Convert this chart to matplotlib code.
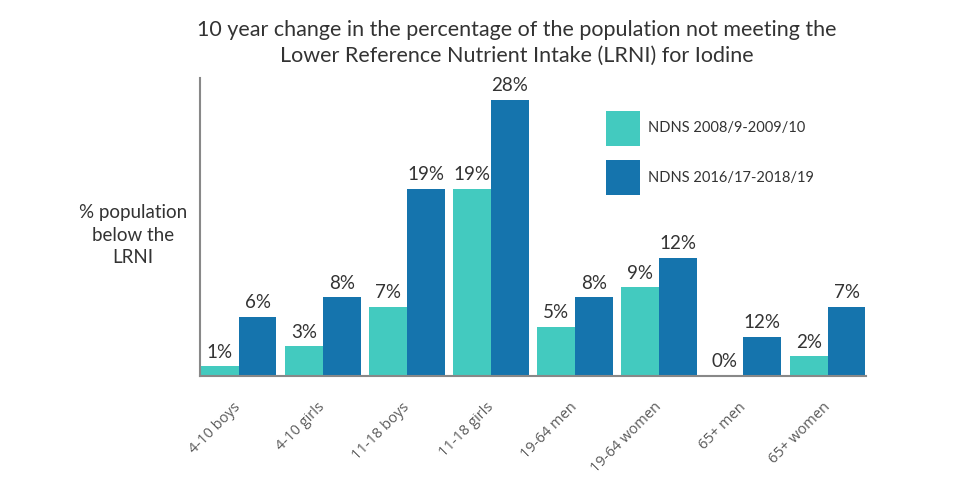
import matplotlib
matplotlib.use("Agg")
import matplotlib.pyplot as plt
import numpy as np

categories = ["4-10 boys", "4-10 girls", "11-18 boys", "11-18 girls",
              "19-64 men", "19-64 women", "65+ men", "65+ women"]
series_names = ["NDNS 2008/9-2009/10", "NDNS 2016/17-2018/19"]
old_values = [1, 3, 7, 19, 5, 9, 0, 2]
new_values = [6, 8, 19, 28, 8, 12, 4, 7]
old_labels = ["1%", "3%", "7%", "19%", "5%", "9%", "0%", "2%"]
new_labels = ["6%", "8%", "19%", "28%", "8%", "12%", "12%", "7%"]

teal = "#43CABF"
blue = "#1574AD"
txt = "#333333"

fig = plt.figure(figsize=(9.8, 4.9), dpi=100)
ax = fig.add_axes([0.204, 0.2327, 0.680, 0.608])

x = np.arange(len(categories))
w = 0.45
b1 = ax.bar(x - w / 2, old_values, w, color=teal, label=series_names[0])
b2 = ax.bar(x + w / 2, new_values, w, color=blue, label=series_names[1])

lab_font = "Lato"
for rects, labs in ((b1, old_labels), (b2, new_labels)):
    for r, l in zip(rects, labs):
        ax.annotate(l, (r.get_x() + r.get_width() / 2, r.get_height()),
                    xytext=(0, 4), textcoords="offset points",
                    ha="center", va="bottom", fontsize=13.5,
                    color=txt, family=lab_font)

ax.set_xlim(-0.46, 7.46)
ax.set_ylim(0, 30.2)
ax.set_yticks([])
ax.set_xticks(x)
ax.set_xticklabels(categories, rotation=45, ha="right", va="center",
                   rotation_mode="anchor",
                   fontsize=10.5, color="#5a5a5a", family="Open Sans")
ax.tick_params(axis="x", length=0, pad=21)

for s in ("top", "right"):
    ax.spines[s].set_visible(False)
ax.spines["left"].set_color("#888888")
ax.spines["bottom"].set_color("#888888")
ax.spines["left"].set_linewidth(1.5)
ax.spines["bottom"].set_linewidth(1.5)

fig.text(0.527, 0.912, "10 year change in the percentage of the population not meeting the\nLower Reference Nutrient Intake (LRNI) for Iodine",
         ha="center", va="center", fontsize=15.5, color=txt, family=lab_font,
         linespacing=1.4)

fig.text(0.136, 0.52, "% population\nbelow the\nLRNI", ha="center", va="center",
         fontsize=13.5, color=txt, family=lab_font, linespacing=1.4)

leg = ax.legend(handles=[b1, b2], loc="upper left", bbox_to_anchor=(0.61, 0.89),
                frameon=False, fontsize=10.5, handlelength=2.3, handleheight=3.3,
                labelspacing=1.0, handletextpad=0.55, borderaxespad=0,
                borderpad=0)
for t in leg.get_texts():
    t.set_color(txt)
    t.set_family(lab_font)

fig.savefig("out.png", dpi=100, facecolor="white")
